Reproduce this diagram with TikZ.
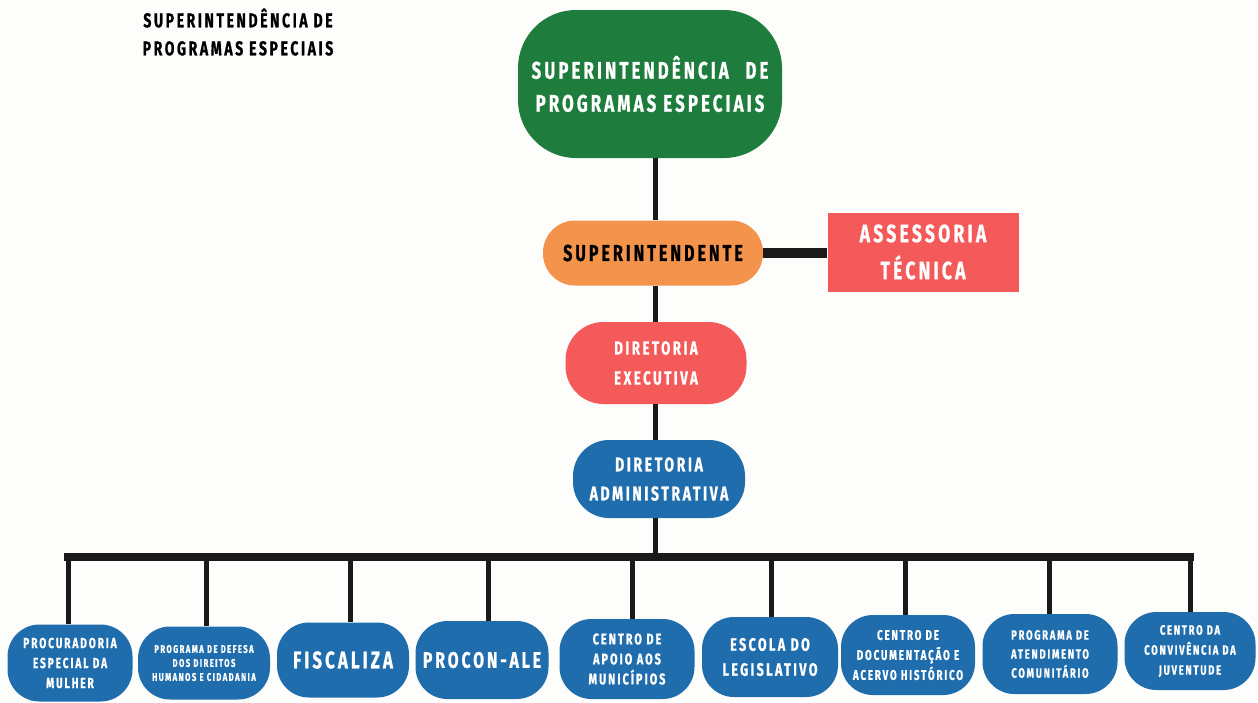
\documentclass[tikz,border=0pt]{standalone}
\usepackage{fontspec}
\newfontfamily\orgfont[FakeStretch=0.7,LetterSpace=13,FakeBold=0.8]{Fira Sans}
\definecolor{bgc}{HTML}{FDFDFB}
\definecolor{greenbox}{HTML}{1E7D3C}
\definecolor{orangebox}{HTML}{F4944C}
\definecolor{redbox}{HTML}{F45A5A}
\definecolor{bluebox}{HTML}{1F6DAD}
\definecolor{linec}{HTML}{1A1A1A}
\newcommand{\fsz}[2]{\fontsize{#1}{#2}\selectfont}
\tikzset{
  orgbox/.style={fill=#1, text=white, align=center, inner sep=0pt,
    font=\orgfont\bfseries},
  unit/.style={orgbox=bluebox, rounded corners=32pt, minimum height=78pt},
  link/.style={draw=linec, line width=5pt},
}
\begin{document}
\begin{tikzpicture}[x=1pt,y=-1pt]
\fill[bgc] (0,0) rectangle (1258,702);
\useasboundingbox (0,0) rectangle (1258,702);

% caption in the upper left corner
\node[font=\orgfont\bfseries\fsz{20}{28}, align=center, text=black] (caption)
  at (238,32) {SUPERINTENDÊNCIA DE\\PROGRAMAS ESPECIAIS};

% upper chain of command
\node[orgbox=greenbox, rounded corners=58pt, minimum width=264pt, minimum height=148pt,
  font=\orgfont\bfseries\fsz{24}{33}] (sup) at (650,84)
  {SUPERINTENDÊNCIA\hspace{0.4em} DE\\PROGRAMAS ESPECIAIS};
\node[orgbox=orangebox, text=black, rounded corners=32pt, minimum width=220pt,
  minimum height=65pt, font=\orgfont\bfseries\fsz{23}{30}] (supt) at (653,253)
  {SUPERINTENDENTE};
\node[orgbox=redbox, minimum width=191pt, minimum height=79pt,
  font=\orgfont\bfseries\fsz{25}{37}] (asse) at (923,252)
  {ASSESSORIA\\TÉCNICA};
\node[orgbox=redbox, rounded corners=38pt, minimum width=181pt, minimum height=82pt,
  font=\orgfont\bfseries\fsz{19}{30}] (dexe) at (656,363)
  {DIRETORIA\\EXECUTIVA};
\node[orgbox=bluebox, rounded corners=36pt, minimum width=172pt, minimum height=78pt,
  font=\orgfont\bfseries\fsz{20}{29}] (dadm) at (659,479)
  {DIRETORIA\\ADMINISTRATIVA};

% units
\node[unit, minimum width=125pt, minimum height=77pt, font=\orgfont\bfseries\fsz{14.5}{20}]
  (u1) at (70,663) {PROCURADORIA\\ESPECIAL DA\\MULHER};
\node[unit, minimum width=132pt, minimum height=73pt, font=\orgfont\bfseries\fsz{11}{14}]
  (u2) at (204,663) {PROGRAMA DE DEFESA\\DOS DIREITOS\\HUMANOS E CIDADANIA};
\node[unit, minimum width=132pt, minimum height=75pt, font=\orgfont\bfseries\fsz{24}{30}]
  (u3) at (343,660) {FISCALIZA};
\node[unit, minimum width=133pt, minimum height=78pt, font=\orgfont\bfseries\fsz{22.5}{30}]
  (u4) at (482,660) {PROCON-ALE};
\node[unit, minimum width=135pt, minimum height=80pt, font=\orgfont\bfseries\fsz{15.5}{20}]
  (u5) at (627,659) {CENTRO DE\\APOIO AOS\\MUNICÍPIOS};
\node[unit, minimum width=136pt, minimum height=80pt, font=\orgfont\bfseries\fsz{18}{25}]
  (u6) at (770,657) {ESCOLA DO\\LEGISLATIVO};
\node[unit, minimum width=134pt, minimum height=80pt, font=\orgfont\bfseries\fsz{14}{20}]
  (u7) at (908,655) {CENTRO DE\\DOCUMENTAÇÃO E\\ACERVO HISTÓRICO};
\node[unit, minimum width=135pt, minimum height=80pt, font=\orgfont\bfseries\fsz{13.5}{19}]
  (u8) at (1050,654) {PROGRAMA DE\\ATENDIMENTO\\COMUNITÁRIO};
\node[unit, minimum width=131pt, minimum height=78pt, font=\orgfont\bfseries\fsz{13.5}{20}]
  (u9) at (1190,651) {CENTRO DA\\CONVIVÊNCIA DA\\JUVENTUDE};

% connectors of the chain
\coordinate (spine) at (655,0);
\draw[link] (spine |- sup.south) -- (spine |- supt.north);
\draw[link, line width=10pt] (supt.east) -- (supt.east -| asse.west);
\draw[link] (spine |- supt.south) -- (spine |- dexe.north);
\draw[link] (spine |- dexe.south) -- (spine |- dadm.north);

% distribution bar to the units
\coordinate (barL) at (64,557);
\coordinate (barR) at (1194,557);
\coordinate (barM) at (655,557);
\draw[link] (spine |- dadm.south) -- (barM);
\draw[link, line width=8pt] (barL) -- (barR);
\foreach \u/\x in {u1/68,u2/206,u3/350,u4/488,u5/632,u6/771,u7/905,u8/1049,u9/1190}{
  \draw[link] (\x,557) -- (\x,0 |- \u.north);
}
\end{tikzpicture}
\end{document}
